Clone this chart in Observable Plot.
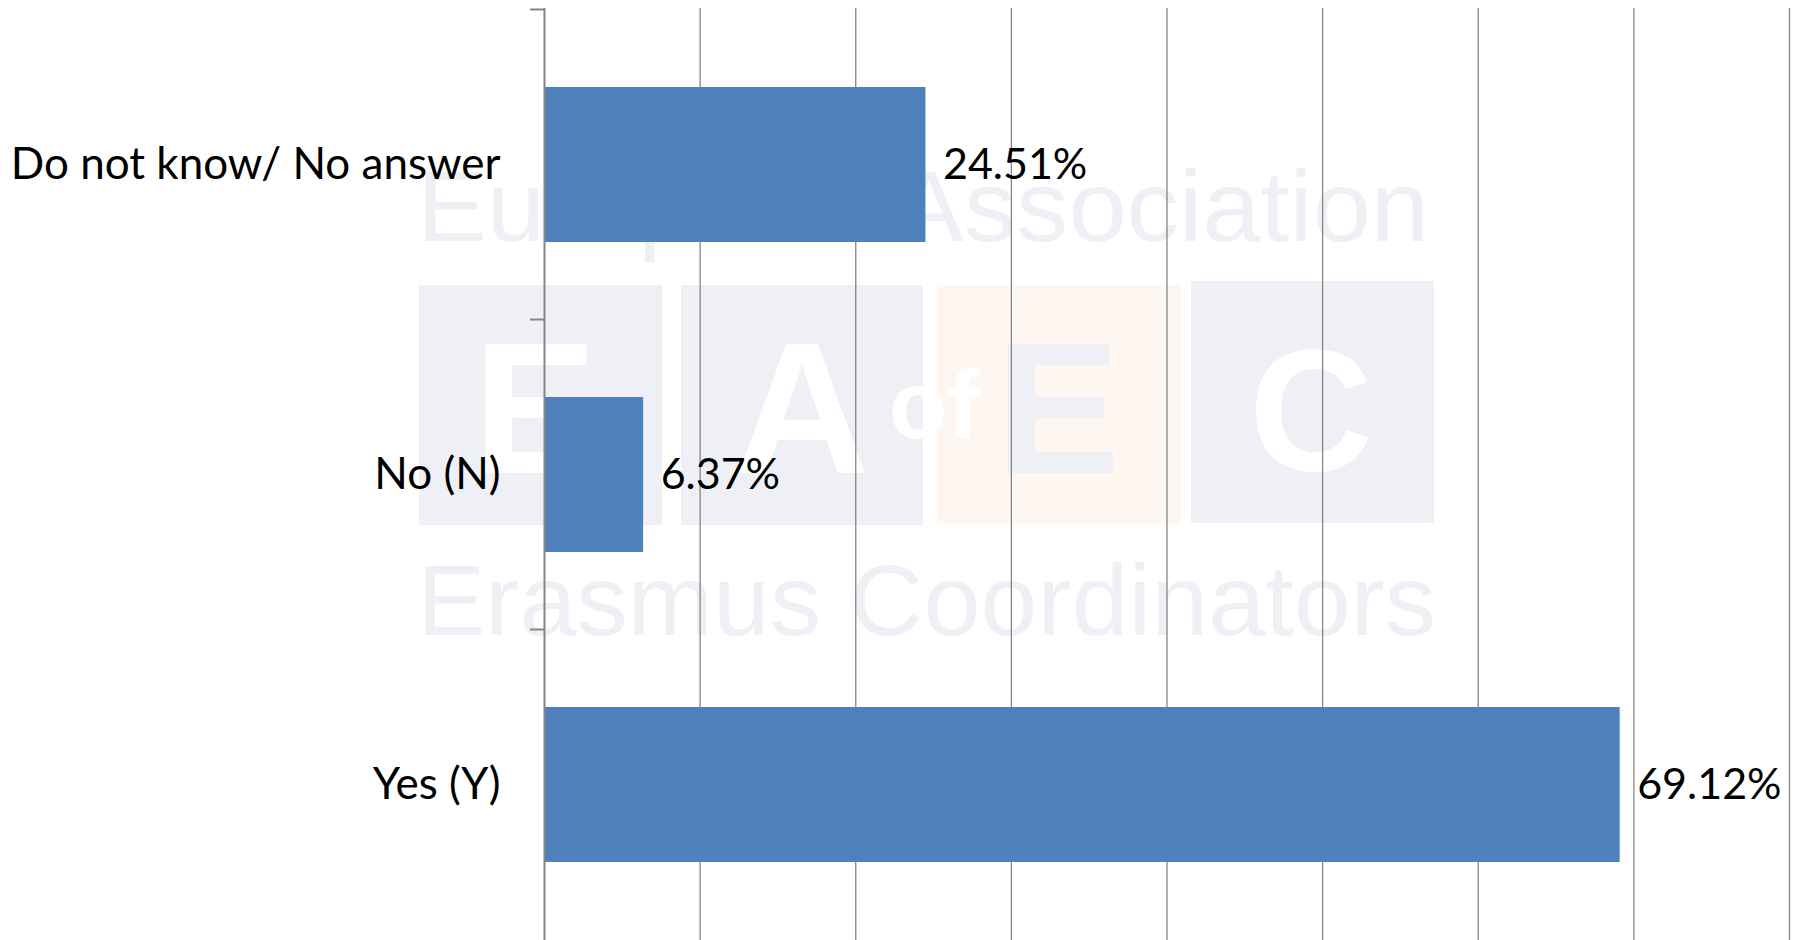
<!DOCTYPE html>
<html>
<head>
<meta charset="utf-8">
<script src="https://cdn.jsdelivr.net/npm/d3@7"></script>
<script src="https://cdn.jsdelivr.net/npm/@observablehq/plot@0.6"></script>
<style>
  html, body { margin: 0; padding: 0; background: #fff; }
  #wrap { position: relative; width: 1800px; height: 940px; overflow: hidden; }
  #wrap > svg { position: absolute; left: 0; top: 0; }
</style>
</head>
<body>
<div id="wrap"></div>
<script>
// Survey answers and their shares (percent)
const categories = ["Do not know/ No answer", "No (N)", "Yes (Y)"];
const shares = [24.51, 6.37, 69.12];
// Vertical gridlines every 10 percent
const gridValues = [10, 20, 30, 40, 50, 60, 70, 80];

const data = categories.map((category, i) => ({category, share: shares[i]}));

const W = 1800, H = 940;
const labelFont = "Lato, 'Liberation Sans', sans-serif";
const labelSize = 44;
const valueSize = 43;

// Faint association logo drawn behind the chart
const wm = d3.create("svg").attr("width", W).attr("height", H);
const wmText = "#eef0f5", wmBox = "#eff0f5", wmOrange = "#fef6f0";
wm.append("text").attr("x", 417).attr("y", 241)
  .attr("font-family", "'Liberation Sans', Arial, sans-serif").attr("font-size", 101)
  .attr("textLength", 1012).attr("lengthAdjust", "spacingAndGlyphs")
  .attr("fill", wmText).text("European Association");
[[419, 285, 243, 240, wmBox], [681, 285, 242, 240, wmBox], [937, 285, 244, 239, wmOrange], [1191, 281, 243, 242, wmBox]]
  .forEach(([x, y, w, h, c]) => wm.append("rect").attr("x", x).attr("y", y).attr("width", w).attr("height", h).attr("fill", c));
[["E", 535, 473, 187, "#fff"], ["A", 802, 473, 187, "#fff"], ["of", 934, 438, 96, "#fff"], ["E", 1058, 473, 187, wmBox], ["C", 1311, 470, 172, "#fff"]]
  .forEach(([t, x, y, s, c]) => wm.append("text").attr("x", x).attr("y", y).attr("text-anchor", "middle")
    .attr("font-family", "'Liberation Sans', Arial, sans-serif").attr("font-weight", 700)
    .attr("font-size", s).attr("fill", c).text(t));
wm.append("text").attr("x", 417).attr("y", 635)
  .attr("font-family", "'Liberation Sans', Arial, sans-serif").attr("font-size", 101)
  .attr("textLength", 1019).attr("lengthAdjust", "spacingAndGlyphs")
  .attr("fill", wmText).text("Erasmus Coordinators");
document.getElementById("wrap").append(wm.node());

// Short ticks on the category axis, placed above each category
const boundaryTicks = (index, scales, values, dims) => {
  const y = scales.y;
  const step = y(categories[1]) - y(categories[0]);
  const edges = categories.map(c => y(c) - step * 0.25);
  const g = d3.create("svg:g");
  g.selectAll("line").data(edges).join("line")
    .attr("x1", dims.marginLeft - 14).attr("x2", dims.marginLeft)
    .attr("y1", d => d).attr("y2", d => d)
    .attr("stroke", "#868686").attr("stroke-width", 2);
  return g.node();
};

const chart = Plot.plot({
  width: W,
  height: H,
  marginLeft: 544,
  marginRight: 11,
  marginTop: 8,
  marginBottom: 0,
  style: {background: "transparent", fontFamily: labelFont, fontSize: labelSize + "px", color: "#000", overflow: "visible"},
  x: {domain: [0, 80], axis: null},
  y: {type: "band", domain: categories, paddingInner: 0.5, paddingOuter: 0.25, axis: null, label: null},
  marks: [
    Plot.ruleX(gridValues, {stroke: "#868686", strokeWidth: 1.3}),
    Plot.barX(data, {x: "share", y: "category", fill: "#4f81bd"}),
    Plot.ruleX([0], {stroke: "#868686", strokeWidth: 2}),
    boundaryTicks,
    Plot.axisY({tickSize: 0, tickPadding: 44, label: null, fill: "#000", fontSize: labelSize}),
    Plot.text(data, {x: "share", y: "category", text: d => d.share.toFixed(2) + "%", textAnchor: "start", dx: 17, fill: "#000", fontSize: valueSize})
  ]
});
document.getElementById("wrap").append(chart);
</script>
</body>
</html>
